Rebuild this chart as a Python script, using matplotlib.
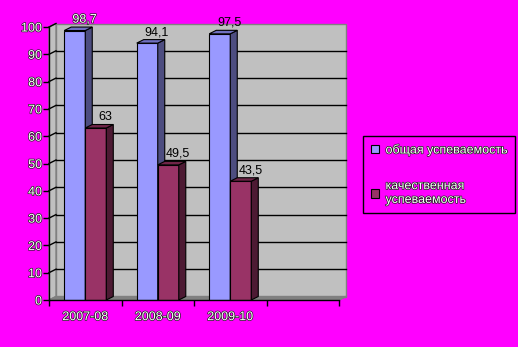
import matplotlib.pyplot as plt
from matplotlib.patches import Polygon, Patch
import matplotlib.patheffects as pe

categories = ['2007-08', '2008-09', '2009-10']
overall = [98.7, 94.1, 97.5]
quality = [63, 49.5, 43.5]
series_names = ['общая успеваемость', 'качественная\nуспеваемость']
n_slots = 4  # the chart keeps an empty fourth category slot

plt.rcParams['font.family'] = ['Liberation Sans', 'DejaVu Sans']
plt.rcParams['font.size'] = 9

BG = '#FF00FF'
white_txt = dict(color='white', path_effects=[pe.withStroke(linewidth=1.0, foreground='#202020')])

fig = plt.figure(figsize=(5.18, 3.47), dpi=100, facecolor=BG)
ax = fig.add_axes([49 / 518, 47 / 347, 290 / 518, 273 / 347])
ax.set_xlim(0, n_slots)
ax.set_ylim(0, 100)
ax.patch.set_visible(False)

# depth of the fake 3d box, in pixels -> data units
depth_x_px, depth_y_px = 7, 3.5
dx = depth_x_px / 290 * n_slots
dy = depth_y_px / 273 * 100

# walls and floor
ax.add_patch(Polygon([(dx, dy), (n_slots + dx, dy), (n_slots + dx, 100 + dy), (dx, 100 + dy)],
                     closed=True, fc='#C0C0C0', ec='#808080', lw=1, zorder=1, clip_on=False))
ax.add_patch(Polygon([(0, 0), (dx, dy), (dx, 100 + dy), (0, 100)],
                     closed=True, fc='#C0C0C0', ec='#808080', lw=1, zorder=1, clip_on=False))
ax.add_patch(Polygon([(0, 0), (n_slots, 0), (n_slots + dx, dy), (dx, dy)],
                     closed=True, fc='#808080', ec='#808080', lw=1, zorder=1.5, clip_on=False))

for v in range(10, 100, 10):
    ax.plot([dx, n_slots + dx], [v + dy, v + dy], color='black', lw=1, zorder=2, clip_on=False)
    ax.plot([0, dx], [v, v + dy], color='black', lw=1, zorder=2, clip_on=False)
ax.plot([0, dx], [100, 100 + dy], color='black', lw=1, zorder=2, clip_on=False)


def draw_bars(lefts, vals, width, front, top, side, z):
    ax.bar(lefts, vals, width, align='edge', color=front, edgecolor='black', lw=0.8, zorder=z)
    for x, v in zip(lefts, vals):
        ax.add_patch(Polygon([(x + width, 0), (x + width + dx, dy), (x + width + dx, v + dy), (x + width, v)],
                             closed=True, fc=side, ec='black', lw=0.8, zorder=z, clip_on=False))
        ax.add_patch(Polygon([(x, v), (x + dx, v + dy), (x + width + dx, v + dy), (x + width, v)],
                             closed=True, fc=top, ec='black', lw=0.8, zorder=z, clip_on=False))


def label_bars(lefts, vals, width, z):
    for x, v in zip(lefts, vals):
        txt = f'{v:g}'.replace('.', ',')
        style = white_txt if v + dy > 99 else dict(color='black')
        ax.annotate(txt, (x + width / 2 + dx, v + dy), xytext=(2, 1), textcoords='offset points',
                    ha='center', va='bottom', fontsize=9, zorder=z, annotation_clip=False, **style)


bar_w = 0.29
idx = range(len(categories))
blue_left = [i + 0.5 - bar_w for i in idx]
red_left = [i + 0.5 for i in idx]
draw_bars(blue_left, overall, bar_w, '#9999FF', '#7070C0', '#4D4D80', 3)
draw_bars(red_left, quality, bar_w, '#993366', '#702448', '#4D1A33', 4)
label_bars(blue_left, overall, bar_w, 6)
label_bars(red_left, quality, bar_w, 6)

# front axes
for s in ['top', 'right']:
    ax.spines[s].set_visible(False)
for s in ['left', 'bottom']:
    ax.spines[s].set_color('black')
    ax.spines[s].set_linewidth(1)
    ax.spines[s].set_zorder(5)
ax.plot([n_slots, n_slots + dx], [0, dy], color='#808080', lw=1, zorder=2, clip_on=False)

ax.set_yticks(range(0, 101, 10))
ax.tick_params(axis='y', length=4, width=1, color='black', pad=1)
for t in ax.get_yticklabels():
    t.set(**white_txt)

ax.set_xticks(range(n_slots + 1))
ax.set_xticklabels([])
ax.tick_params(axis='x', which='major', length=4, width=1, color='black')
ax.set_xticks([i + 0.5 for i in idx], minor=True)
ax.set_xticklabels(categories, minor=True)
ax.tick_params(axis='x', which='minor', length=0, pad=8)
for t in ax.get_xticklabels(minor=True):
    t.set(**white_txt)

handles = [Patch(fc='#9999FF', ec='black', lw=0.8), Patch(fc='#993366', ec='black', lw=0.8)]
leg = fig.legend(handles, series_names, loc='upper left', bbox_to_anchor=(363 / 518, 1 - 136 / 347),
                 frameon=True, fancybox=False, edgecolor='black', facecolor=BG, framealpha=1,
                 handlelength=0.7, handleheight=0.7, handletextpad=0.5, labelspacing=1.9,
                 borderpad=0.6, borderaxespad=0, fontsize=9)
leg.get_frame().set_linewidth(1)
for t in leg.get_texts():
    t.set(**white_txt)

fig.savefig('out.png', dpi=100, facecolor=BG)
